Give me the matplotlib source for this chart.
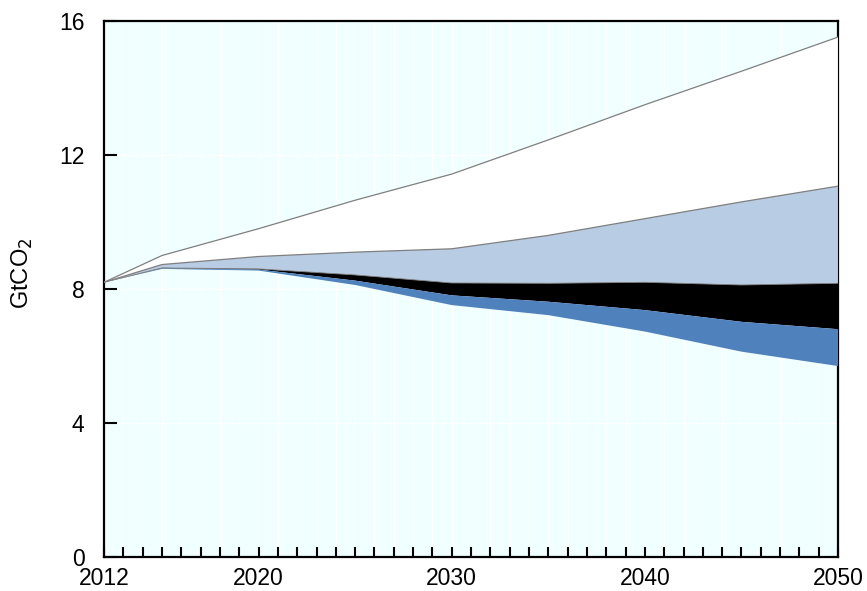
import numpy as np
import matplotlib
matplotlib.use("Agg")
import matplotlib.pyplot as plt
import warnings
warnings.filterwarnings("ignore")

# ─────────────────────────────────────────────
# DATA (GtCO2)
# ─────────────────────────────────────────────

years       = [2012, 2015, 2020, 2025, 2030, 2035, 2040, 2045, 2050]
baseline    = [8.2, 9.0, 9.8, 10.65, 11.43, 12.45, 13.5, 14.5, 15.52]
light_top   = [8.2, 8.73, 8.97, 9.1, 9.2, 9.6, 10.1, 10.6, 11.07]
black_top   = [8.2, 8.63, 8.6, 8.42, 8.18, 8.17, 8.2, 8.12, 8.17]
black_bot   = [8.2, 8.62, 8.58, 8.25, 7.81, 7.62, 7.37, 7.02, 6.8]
blue_bot    = [8.2, 8.6, 8.55, 8.12, 7.52, 7.22, 6.73, 6.13, 5.7]

x_labels = [2012, 2020, 2030, 2040, 2050]
y_ticks  = [0, 4, 8, 12, 16]

# ─────────────────────────────────────────────
# STYLE
# ─────────────────────────────────────────────

plt.rcParams["font.family"] = ["Liberation Sans", "DejaVu Sans"]

BG        = "#f0ffff"
LIGHTBLUE = "#b8cce4"
DARKBLUE  = "#4f81bd"
EDGE      = "#7f7f7f"

fig = plt.figure(figsize=(8.67, 5.91), dpi=100, facecolor="white")
ax = fig.add_axes([0.12, 0.0575, 0.8466, 0.907])
ax.set_facecolor(BG)

# white year gridlines
for yr in range(2012, 2051):
    ax.axvline(yr, color="white", linewidth=1.0, zorder=0)
for yv in y_ticks[1:-1]:
    ax.axhline(yv, color="white", linewidth=1.0, zorder=0)

# ── stacked bands ──
ax.fill_between(years, light_top, baseline, facecolor="white",
                edgecolor="none", zorder=2)
ax.fill_between(years, black_top, light_top, facecolor=LIGHTBLUE,
                edgecolor="none", zorder=2)
ax.fill_between(years, black_bot, black_top, facecolor="black",
                edgecolor="none", zorder=2)
ax.fill_between(years, blue_bot, black_bot, facecolor=DARKBLUE,
                edgecolor="none", zorder=2)

ax.plot(years, baseline, color=EDGE, linewidth=0.9, zorder=3)
ax.plot(years, light_top, color=EDGE, linewidth=0.9, zorder=3)
ax.plot(years, black_top, color=EDGE, linewidth=0.6, zorder=3)
ax.plot([2050, 2050], [black_top[-1], baseline[-1]], color=EDGE,
        linewidth=0.9, zorder=3)

# ── axes ──
ax.set_xlim(2012, 2050)
ax.set_ylim(0, 16)

ax.set_xticks(x_labels)
ax.set_xticklabels([str(v) for v in x_labels], fontsize=16.5)
ax.set_xticks(range(2012, 2051), minor=True)
ax.tick_params(axis="x", which="both", direction="in", length=7,
               width=1.5, pad=7, top=False)

ax.set_yticks(y_ticks)
ax.set_yticklabels([str(v) for v in y_ticks], fontsize=16.5)
ax.tick_params(axis="y", direction="in", length=9, width=1.5, pad=14,
               right=False)

for side in ["left", "bottom", "top", "right"]:
    ax.spines[side].set_linewidth(1.6)
    ax.spines[side].set_color("black")
    ax.spines[side].set_zorder(1)

ax.set_ylabel("GtCO$_2$", fontsize=17)
ax.yaxis.set_label_coords(-0.094, 0.53)

fig.savefig("out.png", dpi=100, facecolor="white")
plt.close()
